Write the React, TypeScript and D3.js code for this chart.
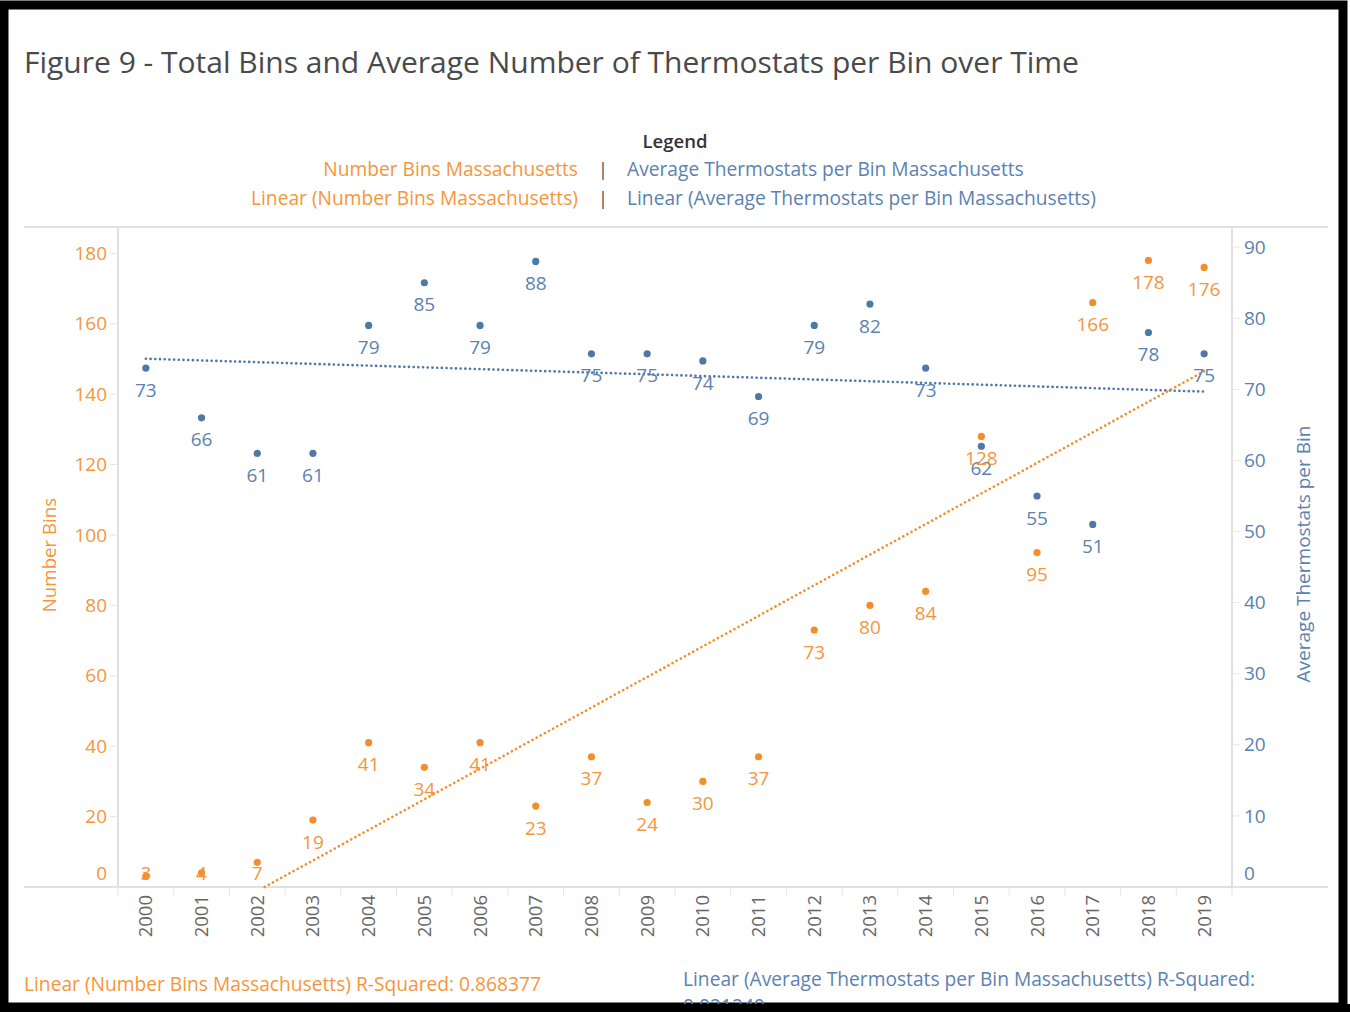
import { useEffect } from "react";
import * as d3 from "d3";

// data
const years = ["2000", "2001", "2002", "2003", "2004", "2005", "2006", "2007", "2008", "2009",
  "2010", "2011", "2012", "2013", "2014", "2015", "2016", "2017", "2018", "2019"];
const numberBins = [3, 4, 7, 19, 41, 34, 41, 23, 37, 24, 30, 37, 73, 80, 84, 128, 95, 166, 178, 176];
const avgThermostats = [73, 66, 61, 61, 79, 85, 79, 88, 75, 75, 74, 69, 79, 82, 73, 62, 55, 51, 78, 75];
const leftTicks = [0, 20, 40, 60, 80, 100, 120, 140, 160, 180];
const rightTicks = [0, 10, 20, 30, 40, 50, 60, 70, 80, 90];
const binsRSquared = "0.868377";

const ORANGE = "#f28e2b";
const ORANGE_TXT = "#f5963c";
const BLUE = "#4e79a7";
const BLUE_TXT = "#5b82b0";
const GRID = "#d6d6d6";
const FONT = "'Open Sans', sans-serif";

function linReg(vals: number[]) {
  const n = vals.length;
  const mx = d3.mean(vals, (_, i) => i) as number;
  const my = d3.mean(vals) as number;
  let sxy = 0, sxx = 0, syy = 0;
  vals.forEach((v, i) => {
    sxy += (i - mx) * (v - my);
    sxx += (i - mx) * (i - mx);
    syy += (v - my) * (v - my);
  });
  const slope = sxy / sxx;
  const intercept = my - slope * mx;
  return { slope, intercept, r2: (sxy * sxy) / (sxx * syy), n };
}

const App = () => {
  useEffect(() => {
    document.body.style.margin = "0";
  }, []);

  const W = 1350, H = 1012;
  const plotLeft = 118, plotRight = 1232, plotTop = 228, plotBottom = 887;
  const outerLeft = 24, outerRight = 1328;

  const x = d3.scaleBand().domain(years).range([plotLeft, plotRight]);
  const cx = (y: string) => (x(y) as number) + x.bandwidth() / 2;
  const yL = d3.scaleLinear().domain([0, 187.2]).range([plotBottom, plotTop]);
  const yR = d3.scaleLinear().domain([0, 92.7]).range([plotBottom, plotTop]);

  const regBins = linReg(numberBins);
  const regAvg = linReg(avgThermostats);

  // orange trend clipped at zero
  const x0 = Math.max(0, -regBins.intercept / regBins.slope);
  const idx = d3.scaleLinear().domain([0, years.length - 1]).range([cx(years[0]), cx(years[years.length - 1])]);
  const binsTrend = d3.line<number>()
    .x((i) => idx(i))
    .y((i) => yL(regBins.intercept + regBins.slope * i))([x0, years.length - 1]);
  const avgTrend = d3.line<number>()
    .x((i) => idx(i))
    .y((i) => yR(regAvg.intercept + regAvg.slope * i))([0, years.length - 1]);

  const labelY = (dy: number) => Math.min(dy + 22, plotBottom - 14);

  return (
    <svg width={W} height={H} style={{ position: "absolute", left: 0, top: 0, fontFamily: FONT }}>
      <rect x={0} y={0} width={W} height={H} fill="#fff" />
      <rect x={4} y={5} width={1339} height={1002} fill="none" stroke="#000" strokeWidth={9} />

      <text x={24} y={73} fontSize={30} fill="#4a4a4a">
        Figure 9 - Total Bins and Average Number of Thermostats per Bin over Time
      </text>

      {/* legend */}
      <text x={675} y={148} fontSize={18.5} fill="#333" textAnchor="middle" fontWeight={600}>Legend</text>
      <text x={578} y={176} fontSize={19.2} fill={ORANGE_TXT} textAnchor="end">Number Bins Massachusetts</text>
      <text x={603} y={176} fontSize={19} fill="#555" textAnchor="middle">|</text>
      <text x={627} y={176} fontSize={19.2} fill={BLUE_TXT}>Average Thermostats per Bin Massachusetts</text>
      <text x={578} y={205} fontSize={19.2} fill={ORANGE_TXT} textAnchor="end">Linear (Number Bins Massachusetts)</text>
      <text x={603} y={205} fontSize={19} fill="#555" textAnchor="middle">|</text>
      <text x={627} y={205} fontSize={19.2} fill={BLUE_TXT}>Linear (Average Thermostats per Bin Massachusetts)</text>

      {/* frame lines */}
      <line x1={outerLeft} x2={outerRight} y1={227} y2={227} stroke={GRID} strokeWidth={1.5} />
      <line x1={outerLeft} x2={outerRight} y1={plotBottom} y2={plotBottom} stroke={GRID} strokeWidth={1.5} />
      <line x1={plotLeft} x2={plotLeft} y1={plotTop} y2={plotBottom} stroke={GRID} strokeWidth={1.5} />
      <line x1={plotRight} x2={plotRight} y1={plotTop} y2={plotBottom} stroke={GRID} strokeWidth={1.5} />

      {/* left axis */}
      {leftTicks.map((t) => (
        <g key={"l" + t}>
          <line x1={plotLeft - 8} x2={plotLeft} y1={yL(t)} y2={yL(t)} stroke="#e6e6e6" />
          <text x={107} y={Math.min(yL(t), plotBottom - 14)} dy="0.35em" fontSize={19} fill={ORANGE_TXT} textAnchor="end">{t}</text>
        </g>
      ))}
      <text transform={`translate(56,555) rotate(-90)`} fontSize={18.7} fill={ORANGE_TXT} textAnchor="middle">Number Bins</text>

      {/* right axis */}
      {rightTicks.map((t) => (
        <g key={"r" + t}>
          <line x1={plotRight} x2={plotRight + 8} y1={yR(t)} y2={yR(t)} stroke="#e6e6e6" />
          <text x={1244} y={Math.min(yR(t), plotBottom - 14)} dy="0.35em" fontSize={19} fill={BLUE_TXT}>{t}</text>
        </g>
      ))}
      <text transform={`translate(1310,554) rotate(-90)`} fontSize={19} fill={BLUE_TXT} textAnchor="middle">Average Thermostats per Bin</text>

      {/* x axis */}
      {years.map((yr) => (
        <g key={yr}>
          <line x1={x(yr) as number} x2={x(yr) as number} y1={plotBottom} y2={plotBottom + 9} stroke="#e6e6e6" />
          <text transform={`translate(${cx(yr)},${plotBottom + 8}) rotate(-90)`} dy="0.35em" fontSize={18.5} fill="#666" textAnchor="end">{yr}</text>
        </g>
      ))}
      <line x1={plotRight} x2={plotRight} y1={plotBottom} y2={plotBottom + 9} stroke="#e6e6e6" />

      {/* trend lines */}
      <path d={avgTrend as string} fill="none" stroke={BLUE} strokeWidth={2.6} strokeDasharray="0.1 4.6" strokeLinecap="round" />
      <path d={binsTrend as string} fill="none" stroke={ORANGE} strokeWidth={2.6} strokeDasharray="0.1 4.6" strokeLinecap="round" />

      {/* blue points */}
      {avgThermostats.map((v, i) => (
        <g key={"b" + i}>
          <circle cx={cx(years[i])} cy={yR(v)} r={3.6} fill={BLUE} />
          <text x={cx(years[i])} y={labelY(yR(v))} dy="0.35em" fontSize={19} fill={BLUE_TXT} textAnchor="middle">{v}</text>
        </g>
      ))}
      {/* orange points */}
      {numberBins.map((v, i) => (
        <g key={"o" + i}>
          <circle cx={cx(years[i])} cy={yL(v)} r={3.6} fill={ORANGE} />
          <text x={cx(years[i])} y={labelY(yL(v))} dy="0.35em" fontSize={19} fill={ORANGE_TXT} textAnchor="middle">{v}</text>
        </g>
      ))}

      {/* r-squared notes */}
      <text x={24} y={991} fontSize={19.2} fill={ORANGE_TXT}>
        {`Linear (Number Bins Massachusetts) R-Squared: ${binsRSquared}`}
      </text>
      <text x={683} y={986} fontSize={19.2} fill={BLUE_TXT}>
        Linear (Average Thermostats per Bin Massachusetts) R-Squared:
      </text>
      <text x={683} y={1013} fontSize={19.2} fill={BLUE_TXT}>{regAvg.r2.toFixed(6)}</text>
      <rect x={0} y={1004} width={W} height={8} fill="#000" />
    </svg>
  );
};

export default App;
